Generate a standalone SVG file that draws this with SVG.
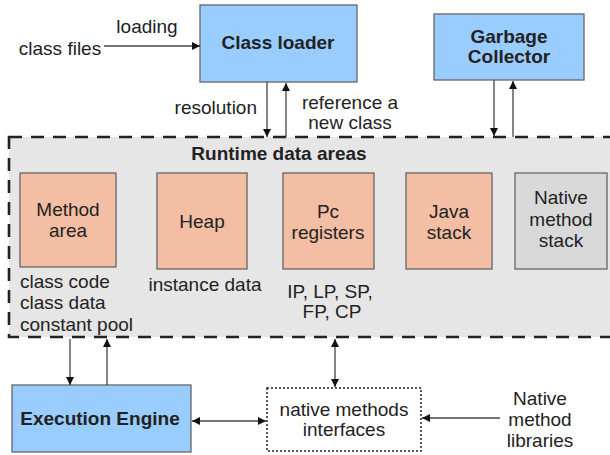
<svg xmlns="http://www.w3.org/2000/svg" width="610" height="455" viewBox="0 0 610 455">
<style>
text{font-family:"Liberation Sans",Arial,sans-serif;font-size:19px;fill:#222}
.c{text-anchor:middle}
.b{font-weight:bold}
.blue{fill:#99ccff;stroke:#666;stroke-width:1.3}
.sal{fill:#f4bea4;stroke:#666;stroke-width:1.3}
.gray{fill:#d9d9d9;stroke:#666;stroke-width:1.3}
.ln{stroke:#444;stroke-width:1.3;fill:none}
</style>
<defs>
<marker id="ah" viewBox="0 0 10 10" refX="10" refY="5" markerWidth="9" markerHeight="8" markerUnits="userSpaceOnUse" orient="auto-start-reverse">
<path d="M0,0 L10,5 L0,10 z" fill="#111"/>
</marker>
</defs>
<g id="runtime">
<rect x="9" y="137" width="620" height="200" fill="#e6e6e6" stroke="#222" stroke-width="2.6" stroke-dasharray="13 9"/>
<text class="c b" x="279" y="160">Runtime data areas</text>
</g>
<g id="classloader">
<rect class="blue" x="200" y="5" width="157" height="77"/>
<text class="c b" x="278" y="49">Class loader</text>
</g>
<g id="gc">
<rect class="blue" x="434" y="14" width="150" height="66"/>
<text class="c b" x="509" y="43">Garbage</text>
<text class="c b" x="509" y="63">Collector</text>
</g>
<g id="method">
<rect class="sal" x="20" y="173" width="96" height="94"/>
<text class="c" x="68" y="216">Method</text>
<text class="c" x="68" y="237">area</text>
<text x="20" y="288">class code</text>
<text x="20" y="309">class data</text>
<text x="20" y="331">constant pool</text>
</g>
<g id="heap">
<rect class="sal" x="157" y="173" width="90" height="96"/>
<text class="c" x="202" y="228">Heap</text>
<text class="c" x="205" y="291">instance data</text>
</g>
<g id="pc">
<rect class="sal" x="283" y="173" width="91" height="96"/>
<text class="c" x="328" y="218">Pc</text>
<text class="c" x="328" y="239">registers</text>
<text class="c" x="330" y="298">IP, LP, SP,</text>
<text class="c" x="332" y="318">FP, CP</text>
</g>
<g id="javastack">
<rect class="sal" x="406" y="173" width="86" height="96"/>
<text class="c" x="449" y="218">Java</text>
<text class="c" x="449" y="239">stack</text>
</g>
<g id="nativestack">
<rect class="gray" x="515" y="173" width="92" height="96"/>
<text class="c" x="561" y="204">Native</text>
<text class="c" x="561" y="226">method</text>
<text class="c" x="561" y="247">stack</text>
</g>
<g id="engine">
<rect class="blue" x="12" y="385" width="179" height="67"/>
<text class="c b" x="100" y="425">Execution Engine</text>
</g>
<g id="nmi">
<rect x="267" y="388" width="154" height="63" fill="#fff" stroke="#222" stroke-width="1.5" stroke-dasharray="2 2"/>
<text class="c" x="344" y="416">native methods</text>
<text class="c" x="344" y="436">interfaces</text>
</g>
<g id="labels">
<text class="c" x="60" y="55">class files</text>
<text class="c" x="147" y="33">loading</text>
<text x="257" y="114" text-anchor="end">resolution</text>
<text class="c" x="350" y="109">reference a</text>
<text class="c" x="350" y="129">new class</text>
<text class="c" x="540" y="405">Native</text>
<text class="c" x="540" y="426">method</text>
<text class="c" x="540" y="447">libraries</text>
</g>
<g id="connectors">
<line class="ln" x1="104" y1="46" x2="200" y2="46" marker-end="url(#ah)"/>
<line class="ln" x1="267" y1="82" x2="267" y2="137" marker-end="url(#ah)"/>
<line class="ln" x1="286" y1="137" x2="286" y2="83" marker-end="url(#ah)"/>
<line class="ln" x1="494" y1="80" x2="494" y2="136" marker-end="url(#ah)"/>
<line class="ln" x1="513" y1="137" x2="513" y2="81" marker-end="url(#ah)"/>
<line class="ln" x1="70" y1="339" x2="70" y2="385" marker-end="url(#ah)"/>
<line class="ln" x1="107" y1="385" x2="107" y2="339" marker-end="url(#ah)"/>
<line class="ln" x1="335" y1="339" x2="335" y2="387" marker-start="url(#ah)" marker-end="url(#ah)"/>
<line class="ln" x1="192" y1="421" x2="266" y2="421" marker-start="url(#ah)" marker-end="url(#ah)"/>
<line class="ln" x1="500" y1="418" x2="422" y2="418" marker-end="url(#ah)"/>
</g>
</svg>
